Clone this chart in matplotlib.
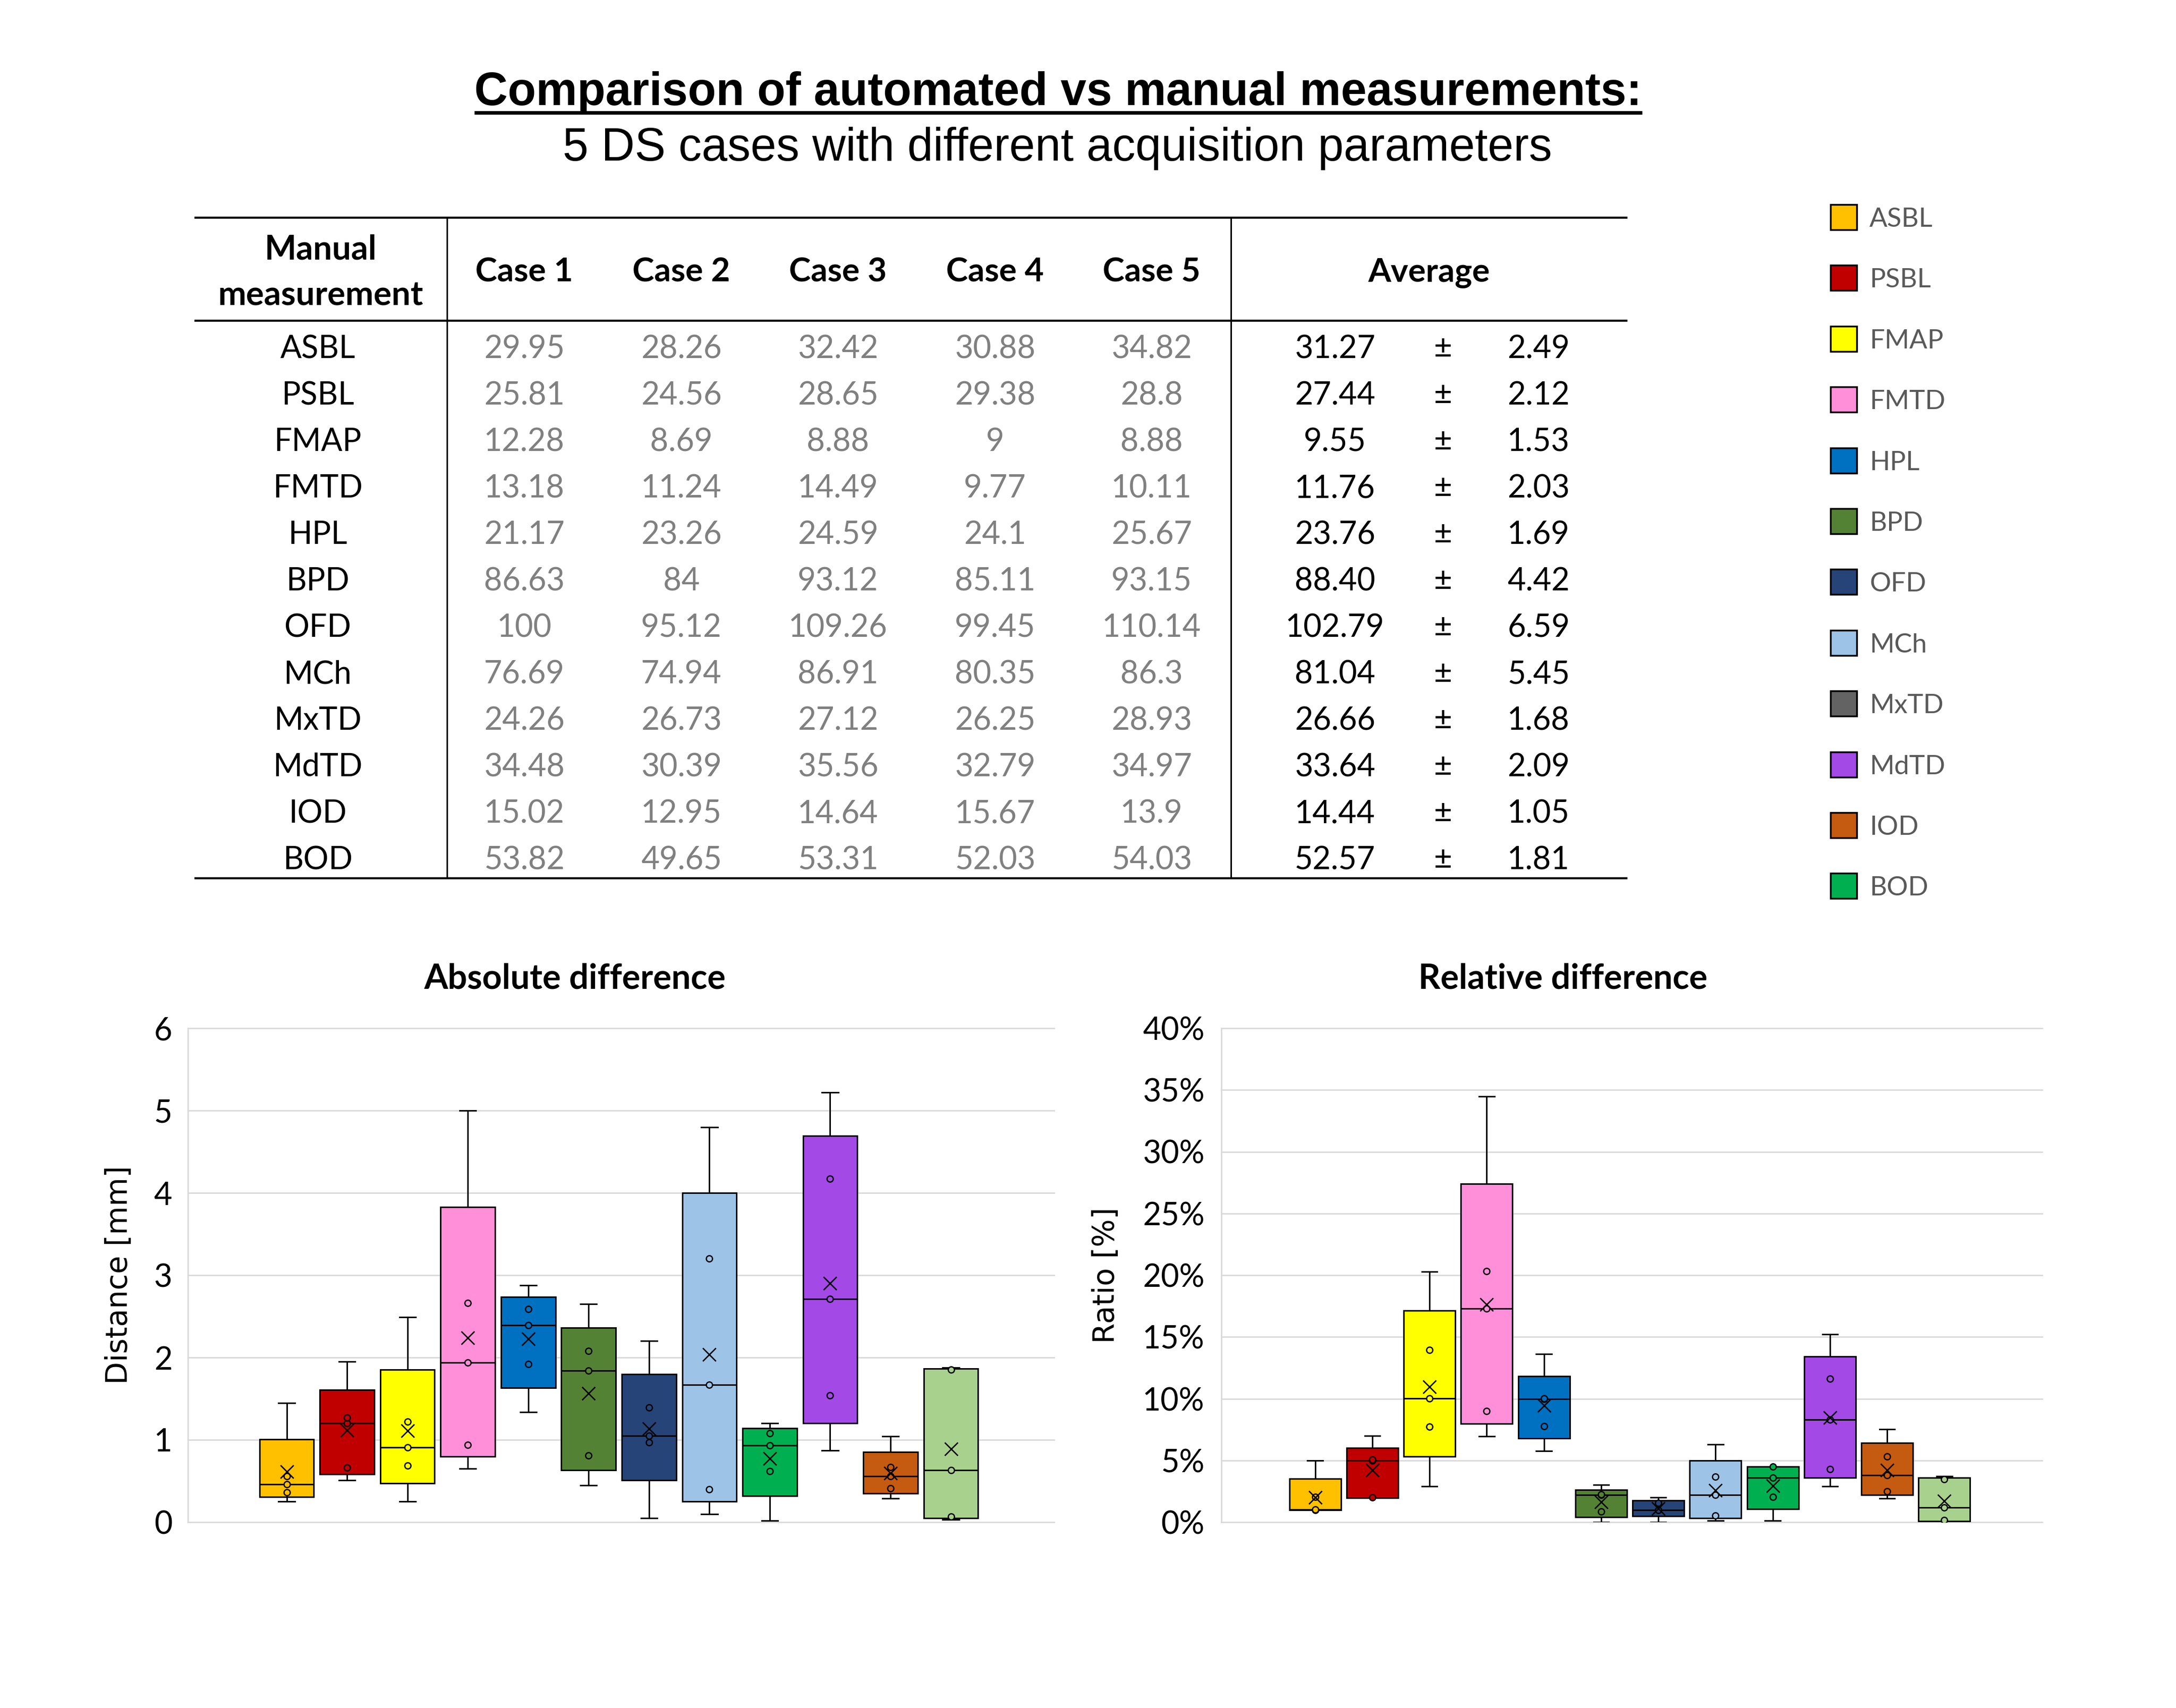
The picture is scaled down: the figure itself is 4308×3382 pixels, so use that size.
import numpy as np
import matplotlib
matplotlib.use('Agg')
import matplotlib.pyplot as plt
from matplotlib.patches import Rectangle
from matplotlib.ticker import PercentFormatter

plt.rcParams['font.family'] = ['Lato', 'DejaVu Sans']

# ---- table data ----
measures = ['ASBL', 'PSBL', 'FMAP', 'FMTD', 'HPL', 'BPD', 'OFD', 'MCh', 'MxTD', 'MdTD', 'IOD', 'BOD']
case1 = [29.95, 25.81, 12.28, 13.18, 21.17, 86.63, 100, 76.69, 24.26, 34.48, 15.02, 53.82]
case2 = [28.26, 24.56, 8.69, 11.24, 23.26, 84, 95.12, 74.94, 26.73, 30.39, 12.95, 49.65]
case3 = [32.42, 28.65, 8.88, 14.49, 24.59, 93.12, 109.26, 86.91, 27.12, 35.56, 14.64, 53.31]
case4 = [30.88, 29.38, 9, 9.77, 24.1, 85.11, 99.45, 80.35, 26.25, 32.79, 15.67, 52.03]
case5 = [34.82, 28.8, 8.88, 10.11, 25.67, 93.15, 110.14, 86.3, 28.93, 34.97, 13.9, 54.03]
avg = [31.27, 27.44, 9.55, 11.76, 23.76, 88.40, 102.79, 81.04, 26.66, 33.64, 14.44, 52.57]
sd = [2.49, 2.12, 1.53, 2.03, 1.69, 4.42, 6.59, 5.45, 1.68, 2.09, 1.05, 1.81]
case_names = ['Case 1', 'Case 2', 'Case 3', 'Case 4', 'Case 5']

legend_colors = ['#FFC000', '#C00000', '#FFFF00', '#FF8FD9', '#0070C0', '#548235',
                 '#264478', '#9DC3E6', '#636363', '#A349E6', '#C55A11', '#00B050']
box_colors = ['#FFC000', '#C00000', '#FFFF00', '#FF8FD9', '#0070C0', '#548235',
              '#264478', '#9DC3E6', '#00B050', '#A349E6', '#C55A11', '#A9D18E']

# ---- differences automated vs manual (5 cases each) ----
abs_diff = [
    [0.25, 0.36, 0.46, 0.56, 1.45],
    [0.51, 0.66, 1.20, 1.27, 1.95],
    [0.25, 0.69, 0.91, 1.22, 2.49],
    [0.65, 0.94, 1.94, 2.66, 5.00],
    [1.34, 1.92, 2.39, 2.59, 2.88],
    [0.45, 0.81, 1.84, 2.08, 2.65],
    [0.05, 0.97, 1.05, 1.39, 2.20],
    [0.10, 0.40, 1.67, 3.20, 4.80],
    [0.02, 0.62, 0.93, 1.08, 1.20],
    [0.87, 1.54, 2.71, 4.17, 5.22],
    [0.29, 0.41, 0.56, 0.67, 1.04],
    [0.03, 0.07, 0.63, 1.85, 1.88],
]
rel_diff = [
    [0.97, 1.00, 1.02, 2.06, 5.00],
    [1.97, 1.99, 5.00, 5.08, 6.98],
    [2.90, 7.72, 10.01, 13.96, 20.28],
    [6.97, 9.01, 17.29, 20.31, 34.47],
    [5.78, 7.78, 10.00, 10.02, 13.61],
    [0.00, 0.84, 2.19, 2.23, 3.01],
    [0.00, 0.98, 1.00, 1.55, 1.99],
    [0.14, 0.52, 2.21, 3.68, 6.28],
    [0.11, 2.05, 3.60, 4.48, 4.48],
    [2.90, 4.30, 8.30, 11.63, 15.21],
    [1.91, 2.51, 3.79, 5.32, 7.52],
    [0.00, 0.16, 1.19, 3.49, 3.71],
]

W, H = 4308, 3382
fig = plt.figure(figsize=(W / 100, H / 100), dpi=100)

# overlay in pixel coordinates for title / table / legend
ov = fig.add_axes([0, 0, 1, 1])
ov.set_xlim(0, W)
ov.set_ylim(H, 0)
ov.axis('off')

t = ov.text(2095, 208, 'Comparison of automated vs manual measurements:', ha='center', va='baseline',
            fontsize=66, fontweight='bold', family='Liberation Sans')
ov.text(2093, 318, '5 DS cases with different acquisition parameters', ha='center', va='baseline',
        fontsize=66, family='Liberation Sans')
fig.canvas.draw()
bb = t.get_window_extent(fig.canvas.get_renderer())
ov.plot([bb.x0, bb.x1], [223, 223], color='black', lw=5, solid_capstyle='butt')

# table
tbl_left, tbl_right = 385, 3222
for y in [431, 635, 1739]:
    ov.plot([tbl_left, tbl_right], [y, y], color='black', lw=3, solid_capstyle='butt')
for x in [885, 2437]:
    ov.plot([x, x], [431, 1739], color='black', lw=2.2, solid_capstyle='butt')

fs = 45
ov.text(635, 513, 'Manual', ha='center', va='baseline', fontsize=48, fontweight='bold')
ov.text(635, 604, 'measurement', ha='center', va='baseline', fontsize=48, fontweight='bold')
case_x = [1038, 1349, 1659, 1970, 2280]
for cx, name in zip(case_x, case_names):
    ov.text(cx, 558, name, ha='center', va='baseline', fontsize=47, fontweight='bold')
ov.text(2829, 558, 'Average', ha='center', va='baseline', fontsize=47, fontweight='bold')

cases = [case1, case2, case3, case4, case5]
for i, m in enumerate(measures):
    y = 709 + i * 92
    ov.text(629, y, m, ha='center', va='baseline', fontsize=fs)
    for cx, col in zip(case_x, cases):
        ov.text(cx, y, '{:g}'.format(col[i]), ha='center', va='baseline', fontsize=fs, color='#808080')
    ov.text(2643, y, '{:.2f}'.format(avg[i]), ha='center', va='baseline', fontsize=fs)
    ov.text(2857, y, '±', ha='center', va='baseline', fontsize=fs)
    ov.text(3046, y, '{:.2f}'.format(sd[i]), ha='center', va='baseline', fontsize=fs)

# legend
for i, (m, c) in enumerate(zip(measures, legend_colors)):
    yc = 430 + i * 120.4
    ov.add_patch(Rectangle((3624, yc - 25), 52, 50, facecolor=c, edgecolor='black', lw=2.5))
    ov.text(3701, yc + 19, m, ha='left', va='baseline', fontsize=38, color='#595959')


def draw_boxes(ax, data):
    stats = []
    for vals in data:
        v = np.sort(np.array(vals))
        q1, med, q3 = np.percentile(v, [25, 50, 75], method='weibull')
        stats.append(dict(med=med, q1=q1, q3=q3, whislo=v[0], whishi=v[-1],
                          mean=v.mean(), fliers=[]))
    pos = np.arange(1, len(data) + 1)
    lp = dict(color='black', linewidth=2.1)
    bp = ax.bxp(stats, positions=pos, widths=0.9, capwidths=0.27, patch_artist=True,
                showmeans=True, showfliers=False,
                boxprops=dict(edgecolor='black', linewidth=2.1),
                medianprops=lp, whiskerprops=lp, capprops=lp,
                meanprops=dict(marker='x', markersize=19, markeredgecolor='black',
                               markeredgewidth=1.9, zorder=6))
    for patch, c in zip(bp['boxes'], box_colors):
        patch.set_facecolor(c)
    for p, vals, c in zip(pos, data, box_colors):
        inner = np.sort(vals)[1:-1]
        ax.plot([p] * len(inner), inner, 'o', ms=8.8, mfc=c, mec='black', mew=1.8, zorder=5)
    ax.set_xlim(-0.64, 13.71)
    ax.set_xticks([])
    ax.yaxis.grid(True, color='#D9D9D9', lw=2)
    ax.set_axisbelow(True)
    for s in ['top', 'right', 'bottom']:
        ax.spines[s].set_visible(False)
    ax.spines['left'].set_color('#D9D9D9')
    ax.spines['left'].set_linewidth(2)
    ax.tick_params(axis='y', length=0, labelsize=45)
    for gl in ax.get_ygridlines():
        gl.set_clip_on(False)


bottom = 1 - 3014 / H
height = (3014 - 2036) / H

ax1 = fig.add_axes([371.5 / W, bottom, (2087 - 371.5) / W, height])
draw_boxes(ax1, abs_diff)
ax1.set_ylim(0, 6)
ax1.set_yticks(range(0, 7))
ax1.tick_params(axis='y', pad=22)
ov.text(1138, 1957, 'Absolute difference', ha='center', va='baseline', fontsize=49, fontweight='bold')
fig.text(235 / W, 1 - 2525 / H, 'Distance [mm]', rotation=90, ha='center', va='center',
         fontsize=42, family='DejaVu Sans')

ax2 = fig.add_axes([2418 / W, bottom, (4043 - 2418) / W, height])
draw_boxes(ax2, rel_diff)
ax2.set_ylim(0, 40)
ax2.set_yticks(range(0, 41, 5))
ax2.yaxis.set_major_formatter(PercentFormatter(100, decimals=0))
ax2.tick_params(axis='y', pad=24)
ov.text(3094, 1957, 'Relative difference', ha='center', va='baseline', fontsize=49, fontweight='bold')
fig.text(2189 / W, 1 - 2525 / H, 'Ratio [%]', rotation=90, ha='center', va='center',
         fontsize=42, family='DejaVu Sans')

fig.savefig('out.png', dpi=100, facecolor='white')
